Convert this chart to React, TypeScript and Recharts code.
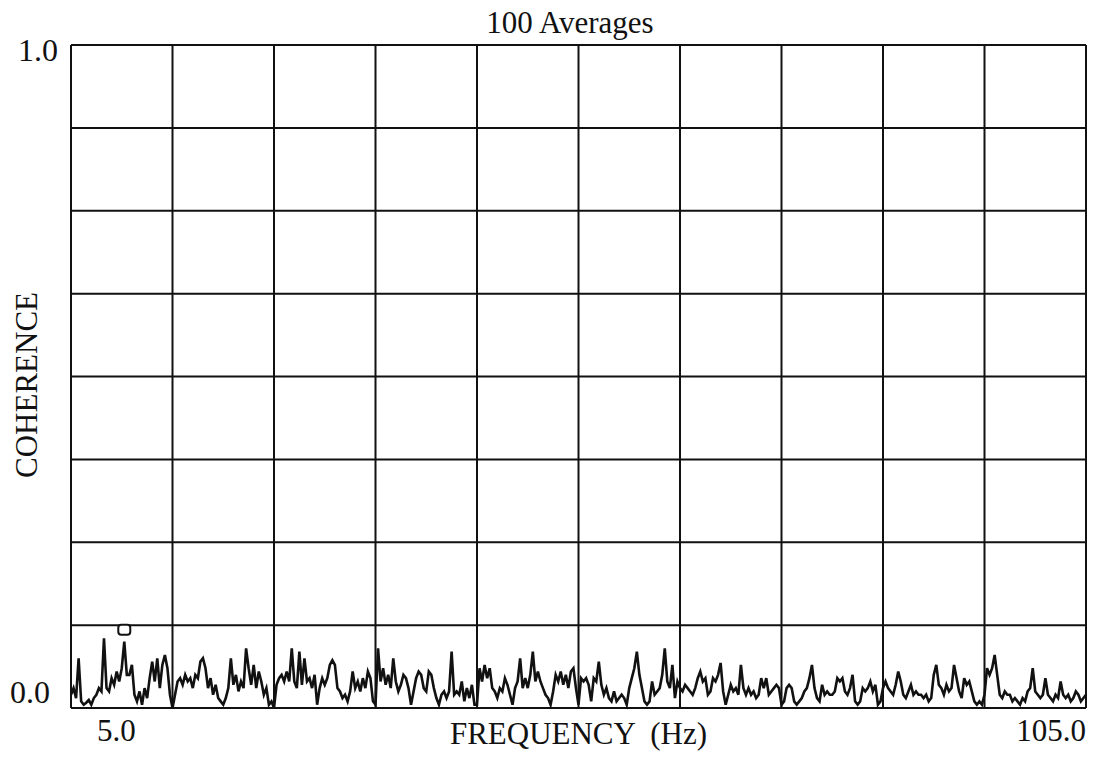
import {
  LineChart,
  Line,
  XAxis,
  YAxis,
  CartesianGrid,
  ReferenceDot,
} from "recharts";

// frequency span of the analyzer, 0.25 Hz per line
const startHz = 5;
const stepHz = 0.25;

// coherence readings, one row per 10 Hz grid division
const coherence: number[] = [
  // 5 - 15 Hz
  0.02, 0.03, 0.015, 0.075, 0.01, 0.005, 0.008, 0.012, 0.005, 0.015,
  0.02, 0.03, 0.025, 0.105, 0.03, 0.025, 0.045, 0.035, 0.055, 0.04,
  0.06, 0.1, 0.05, 0.05, 0.065, 0.02, 0.01, 0.025, 0.005, 0.03,
  0.015, 0.045, 0.07, 0.04, 0.075, 0.03, 0.065, 0.08, 0.06, 0.02,
  // 15 - 25 Hz
  0.0, 0.02, 0.04, 0.045, 0.035, 0.05, 0.04, 0.045, 0.03, 0.05,
  0.045, 0.07, 0.075, 0.06, 0.03, 0.045, 0.02, 0.035, 0.015, 0.01,
  0.005, 0.015, 0.03, 0.075, 0.035, 0.05, 0.025, 0.04, 0.03, 0.09,
  0.06, 0.035, 0.065, 0.03, 0.055, 0.04, 0.02, 0.03, 0.005, 0.01,
  // 25 - 35 Hz
  0.0, 0.035, 0.045, 0.05, 0.04, 0.055, 0.04, 0.09, 0.04, 0.03,
  0.085, 0.035, 0.075, 0.04, 0.045, 0.03, 0.05, 0.005, 0.03, 0.045,
  0.035, 0.045, 0.065, 0.072, 0.065, 0.03, 0.025, 0.015, 0.02, 0.01,
  0.025, 0.055, 0.03, 0.04, 0.025, 0.045, 0.03, 0.055, 0.045, 0.01,
  // 35 - 45 Hz
  0.005, 0.09, 0.04, 0.06, 0.035, 0.05, 0.03, 0.075, 0.04, 0.025,
  0.035, 0.05, 0.045, 0.03, 0.005, 0.025, 0.045, 0.055, 0.05, 0.03,
  0.025, 0.055, 0.05, 0.03, 0.015, 0.005, 0.02, 0.025, 0.015, 0.025,
  0.085, 0.02, 0.025, 0.02, 0.04, 0.01, 0.03, 0.015, 0.035, 0.005,
  // 45 - 55 Hz
  0.005, 0.06, 0.04, 0.065, 0.045, 0.06, 0.03, 0.025, 0.015, 0.03,
  0.025, 0.045, 0.035, 0.02, 0.005, 0.03, 0.04, 0.075, 0.03, 0.045,
  0.03, 0.05, 0.085, 0.04, 0.055, 0.04, 0.03, 0.02, 0.015, 0.005,
  0.025, 0.05, 0.04, 0.055, 0.035, 0.05, 0.03, 0.055, 0.06, 0.03,
  // 55 - 65 Hz
  0.005, 0.045, 0.04, 0.045, 0.035, 0.01, 0.045, 0.04, 0.07, 0.035,
  0.02, 0.03, 0.015, 0.01, 0.025, 0.01, 0.015, 0.02, 0.015, 0.005,
  0.03, 0.045, 0.06, 0.085, 0.05, 0.03, 0.01, 0.005, 0.01, 0.04,
  0.02, 0.025, 0.03, 0.05, 0.09, 0.04, 0.03, 0.065, 0.015, 0.04,
  // 65 - 75 Hz
  0.03, 0.025, 0.035, 0.03, 0.025, 0.02, 0.03, 0.045, 0.055, 0.04,
  0.045, 0.02, 0.025, 0.045, 0.04, 0.05, 0.068, 0.025, 0.005, 0.02,
  0.035, 0.025, 0.03, 0.02, 0.065, 0.03, 0.02, 0.03, 0.02, 0.025,
  0.015, 0.02, 0.045, 0.03, 0.045, 0.02, 0.025, 0.03, 0.035, 0.03,
  // 75 - 85 Hz
  0.005, 0.01, 0.03, 0.035, 0.03, 0.01, 0.005, 0.01, 0.015, 0.025,
  0.03, 0.045, 0.065, 0.03, 0.015, 0.01, 0.035, 0.02, 0.025, 0.02,
  0.02, 0.025, 0.045, 0.04, 0.045, 0.025, 0.02, 0.03, 0.05, 0.01,
  0.005, 0.01, 0.03, 0.025, 0.03, 0.04, 0.025, 0.035, 0.005, 0.01,
  // 85 - 95 Hz
  0.03, 0.04, 0.03, 0.025, 0.02, 0.035, 0.055, 0.04, 0.02, 0.015,
  0.025, 0.035, 0.02, 0.025, 0.02, 0.02, 0.015, 0.02, 0.01, 0.015,
  0.05, 0.065, 0.035, 0.03, 0.02, 0.035, 0.025, 0.03, 0.065, 0.045,
  0.025, 0.015, 0.045, 0.035, 0.04, 0.025, 0.01, 0.005, 0.01, 0.005,
  // 95 - 105 Hz
  0.02, 0.06, 0.05, 0.06, 0.08, 0.05, 0.02, 0.015, 0.025, 0.02,
  0.02, 0.01, 0.015, 0.01, 0.005, 0.015, 0.01, 0.025, 0.03, 0.06,
  0.025, 0.02, 0.015, 0.02, 0.045, 0.02, 0.015, 0.01, 0.02, 0.015,
  0.04, 0.02, 0.015, 0.02, 0.01, 0.015, 0.025, 0.02, 0.01, 0.015,
  0.02,
];

const freqTicks = [5, 15, 25, 35, 45, 55, 65, 75, 85, 95, 105];
const cohTicks = [0, 0.125, 0.25, 0.375, 0.5, 0.625, 0.75, 0.875, 1];

// analyzer marker sitting on the 10.25 Hz line
const markerHz = 10.25;
const markerLevel = 0.118;

const data = coherence.map((c, i) => ({ hz: startHz + i * stepHz, c }));

const ink = "#111";
const serif = "'Liberation Serif', 'Times New Roman', serif";

const FreqTick = (props: any) => {
  const { x, y, payload } = props;
  if (payload.value === 5) {
    return (
      <text x={x + 26} y={y + 25} fontSize={31} fontFamily={serif} fill={ink}>
        5.0
      </text>
    );
  }
  if (payload.value === 105) {
    return (
      <text x={x} y={y + 25} fontSize={31} fontFamily={serif} fill={ink} textAnchor="end">
        105.0
      </text>
    );
  }
  return null;
};

const CohTick = (props: any) => {
  const { x, y, payload } = props;
  if (payload.value === 1) {
    return (
      <text x={x - 5} y={y + 16} fontSize={32} fontFamily={serif} fill={ink} textAnchor="end">
        1.0
      </text>
    );
  }
  if (payload.value === 0) {
    return (
      <text x={x - 13} y={y - 5} fontSize={32} fontFamily={serif} fill={ink} textAnchor="end">
        0.0
      </text>
    );
  }
  return null;
};

const MarkerBox = (props: any) => {
  const { cx, cy } = props;
  return (
    <rect x={cx - 6} y={cy - 5} width={12} height={10} rx={3} fill="#fff" stroke={ink} strokeWidth={2} />
  );
};

export default function App() {
  return (
    <div style={{ position: "absolute", left: 0, top: 0, width: 1095, height: 758, background: "#fff", fontFamily: serif, color: ink }}>
      <div style={{ position: "absolute", left: 0, width: 1140, top: 6, textAlign: "center", fontSize: 31, lineHeight: "34px" }}>
        100 Averages
      </div>
      <div style={{ position: "absolute", left: 0, width: 1157, top: 717, textAlign: "center", fontSize: 31, lineHeight: "34px", whiteSpace: "pre" }}>
        {"FREQUENCY  (Hz)"}
      </div>
      <div
        style={{
          position: "absolute",
          left: 27,
          top: 385,
          transform: "translate(-50%, -50%) rotate(-90deg)",
          fontSize: 31,
          lineHeight: "34px",
          whiteSpace: "nowrap",
        }}
      >
        COHERENCE
      </div>
      <LineChart
        width={1095}
        height={758}
        data={data}
        margin={{ top: 45, right: 9, left: 0, bottom: 0 }}
        style={{ position: "absolute", left: 0, top: 0 }}
      >
        <CartesianGrid stroke={ink} strokeWidth={2} horizontalValues={cohTicks} verticalValues={freqTicks} />
        <XAxis
          dataKey="hz"
          type="number"
          domain={[5, 105]}
          ticks={freqTicks}
          height={50}
          axisLine={false}
          tickLine={false}
          tick={<FreqTick />}
          interval={0}
        />
        <YAxis
          type="number"
          domain={[0, 1]}
          ticks={cohTicks}
          width={71}
          axisLine={false}
          tickLine={false}
          tick={<CohTick />}
          interval={0}
        />
        <Line
          type="linear"
          dataKey="c"
          stroke={ink}
          strokeWidth={2.6}
          dot={false}
          isAnimationActive={false}
        />
        <ReferenceDot x={markerHz} y={markerLevel} r={5} shape={<MarkerBox />} />
      </LineChart>
    </div>
  );
}
